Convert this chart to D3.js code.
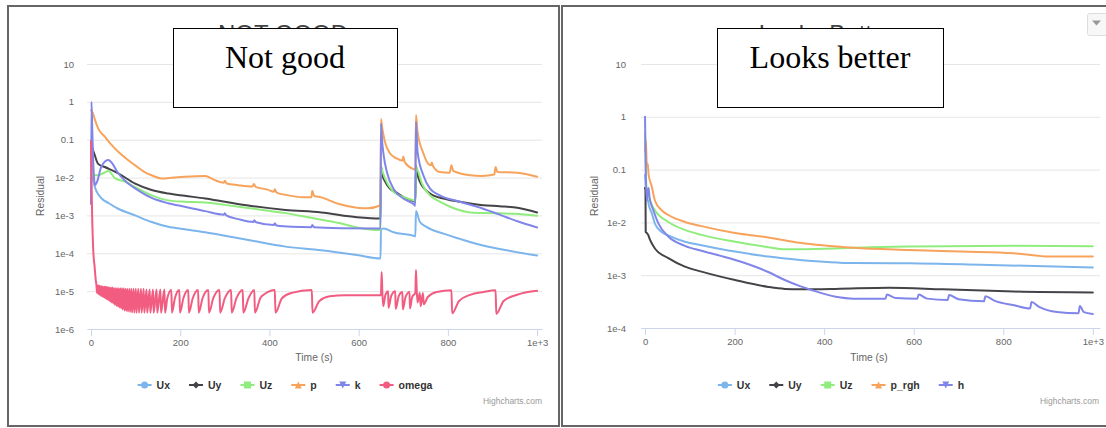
<!DOCTYPE html>
<html>
<head>
<meta charset="utf-8">
<script src="https://cdn.jsdelivr.net/npm/d3@7"></script>
<style>
  body { margin: 0; background: #fff; }
  text { font-family: "Liberation Sans", Arial, sans-serif; }
</style>
</head>
<body>
<script>
// ---- data (time in s, residual) ----

var xTickValues = [0, 200, 400, 600, 800, 1000];
var xTickLabels = ["0", "200", "400", "600", "800", "1e+3"];

var yTickValuesLeft = [1e-6, 1e-5, 1e-4, 1e-3, 1e-2, 0.1, 1, 10];
var yTickLabelsLeft = ["1e-6", "1e-5", "1e-4", "1e-3", "1e-2", "0.1", "1", "10"];
var yTickValuesRight = [1e-4, 1e-3, 1e-2, 0.1, 1, 10];
var yTickLabelsRight = ["1e-4", "1e-3", "1e-2", "0.1", "1", "10"];

var namesLeft = ["Ux", "Uy", "Uz", "p", "k", "omega"];
var namesRight = ["Ux", "Uy", "Uz", "p_rgh", "h"];

// left chart ("Not good")
var uxLeft = [[0, 0.05], [3, 0.012], [8, 6e-3], [13, 4.2e-3], [24, 2.8e-3], [40, 2.1e-3], [61, 1.5e-3],
  [99, 1e-3], [136, 6.7e-4], [173, 5e-4], [210, 4.3e-4], [256, 3.6e-4], [300, 2.9e-4], [356, 2.2e-4],
  [436, 1.5e-4], [516, 1.2e-4], [596, 9e-5], [649, 7.3e-5], [650, 4.2e-4], [656, 4.5e-4], [678, 3.6e-4],
  [723, 2.9e-4], [727, 2.8e-4], [728.5, 1.3e-3], [737, 6.8e-4], [752, 5e-4], [790, 3.3e-4], [827, 2.4e-4],
  [879, 1.6e-4], [940, 1.15e-4], [1000, 8.7e-5]];

var uyLeft = [[0, 0.09], [3, 0.06], [7, 0.044], [16, 0.023], [31, 0.019], [61, 0.013], [99, 6.9e-3],
  [136, 4.7e-3], [173, 3.8e-3], [210, 3.3e-3], [256, 2.8e-3], [300, 2.3e-3], [356, 1.8e-3], [436, 1.4e-3],
  [516, 1.2e-3], [596, 9e-4], [649, 8.3e-4], [650, 0.02], [653, 0.012], [659, 8e-3], [670, 5.1e-3],
  [685, 4e-3], [700, 3.1e-3], [723, 2.4e-3], [727, 2.3e-3], [728.5, 0.02], [732, 0.012], [737, 7.8e-3],
  [760, 3.8e-3], [790, 2.8e-3], [827, 2.3e-3], [879, 1.86e-3], [916, 1.75e-3], [956, 1.6e-3], [1000, 1.2e-3]];

var uzLeft = [[0, 0.02], [3, 0.0115], [16, 0.0115], [27, 0.013], [39, 0.015], [54, 9.5e-3], [76, 7.8e-3],
  [99, 5.6e-3], [136, 3.4e-3], [173, 2.5e-3], [210, 2.3e-3], [256, 2.2e-3], [300, 1.9e-3], [356, 1.55e-3],
  [436, 1.15e-3], [496, 8.5e-4], [556, 6.3e-4], [596, 4.8e-4], [649, 4.1e-4], [650, 0.019], [654, 0.014],
  [659, 9.5e-3], [678, 4.2e-3], [700, 3.1e-3], [723, 2.5e-3], [727, 2.4e-3], [728.5, 0.019], [732, 0.016],
  [742, 6.9e-3], [760, 3.4e-3], [782, 2.3e-3], [805, 1.7e-3], [827, 1.37e-3], [850, 1.2e-3], [900, 1.15e-3],
  [950, 1.1e-3], [1000, 9.8e-4]];

var pLeft = [[0, 0.6], [4, 0.5], [9, 0.33], [16, 0.2], [31, 0.12], [45, 0.075], [61, 0.048], [80, 0.031],
  [99, 0.021], [120, 0.014], [136, 0.0115], [158, 9.5e-3], [185, 0.01], [210, 0.0105], [256, 0.011],
  [276, 8.7e-3], [298, 7.3e-3], [300, 8.3e-3], [304, 7e-3], [330, 6.3e-3], [362, 5.8e-3], [365, 6.8e-3],
  [369, 5.7e-3], [396, 4.8e-3], [410, 4.2e-3], [412, 4.9e-3], [416, 4e-3], [436, 3.5e-3], [476, 3e-3],
  [494, 3e-3], [496, 4.5e-3], [500, 3.3e-3], [516, 3e-3], [556, 2e-3], [596, 1.6e-3], [620, 1.55e-3],
  [649, 1.86e-3], [650, 0.35], [653, 0.2], [659, 0.087], [670, 0.044], [685, 0.032], [698, 0.028],
  [700, 0.036], [703, 0.026], [723, 0.0166], [727, 0.016], [728.5, 0.45], [732, 0.16], [745, 0.044],
  [756, 0.023], [762, 0.021], [764, 0.025], [767, 0.02], [782, 0.014], [804, 0.0135], [808, 0.021],
  [812, 0.015], [850, 0.0115], [876, 0.011], [904, 0.012], [907, 0.019], [911, 0.014], [956, 0.0135],
  [1000, 0.0105]];

var kLeft = [[0, 2e-3], [1, 1.0], [3, 0.15], [5, 0.025], [9, 6.3e-3], [14, 8e-3], [22, 0.018], [32, 0.027],
  [39, 0.029], [46, 0.025], [61, 0.013], [80, 7.5e-3], [99, 5.2e-3], [136, 2.9e-3], [173, 2.1e-3],
  [210, 1.7e-3], [256, 1.3e-3], [298, 1.05e-3], [300, 1.15e-3], [303, 1e-3], [330, 8e-4], [364, 6.7e-4],
  [366, 7.5e-4], [370, 6.6e-4], [410, 5.6e-4], [412, 6.2e-4], [416, 5.4e-4], [450, 5e-4], [494, 4.9e-4],
  [496, 5.6e-4], [500, 4.9e-4], [560, 4.6e-4], [649, 4.5e-4], [650, 0.27], [653, 0.08], [656, 0.039],
  [664, 0.013], [678, 5.1e-3], [700, 2.8e-3], [723, 2e-3], [727, 1.8e-3], [728.5, 0.3], [732, 0.048],
  [745, 0.0115], [760, 5.1e-3], [782, 3.4e-3], [827, 2.3e-3], [879, 1.5e-3], [916, 1.05e-3], [956, 7e-4],
  [1000, 4.8e-4]];

var omegaLeft = [[0, 0.09], [2, 2e-3], [5, 1.2e-4], [8, 4.5e-5], [11, 1.8e-5],
  [12, 1.5e-5], [13.5, 9e-6], [15, 1.4e-5], [16.5, 8.5e-6], [18, 1.4e-5], [19.5, 8e-6], [21, 1.35e-5],
  [22.5, 7.5e-6], [24, 1.35e-5], [25.5, 7.2e-6], [27, 1.3e-5], [28.5, 7e-6], [30, 1.3e-5], [31.5, 6.5e-6],
  [33, 1.3e-5], [34.5, 6.2e-6], [36, 1.3e-5], [37.5, 6e-6], [39, 1.25e-5], [40.5, 5.6e-6], [42, 1.25e-5],
  [43.5, 5.3e-6], [45, 1.25e-5], [46.5, 5e-6], [48.5, 1.25e-5], [50, 4.7e-6], [52, 1.2e-5], [53.5, 4.4e-6],
  [55.5, 1.2e-5], [57, 4.1e-6], [59, 1.2e-5], [60.5, 3.9e-6], [62.5, 1.2e-5], [64, 3.7e-6], [66, 1.2e-5],
  [67.5, 3.5e-6], [69.5, 1.2e-5], [71, 3.3e-6], [73.5, 1.2e-5], [75, 3.1e-6], [77.5, 1.15e-5], [79, 3e-6],
  [81.5, 1.15e-5], [83, 2.9e-6], [86, 1.15e-5], [87.5, 2.8e-6], [90.5, 1.15e-5], [92, 2.75e-6],
  [95.5, 1.15e-5], [97, 2.7e-6], [100.5, 1.15e-5], [102, 2.7e-6], [106, 1.15e-5], [107.5, 2.7e-6],
  [112, 1.15e-5], [113.5, 2.7e-6], [118, 1.15e-5], [119.5, 2.7e-6], [124.5, 1.1e-5], [126, 2.7e-6],
  [131.5, 1.1e-5], [133, 2.7e-6], [139, 1.1e-5], [140.5, 2.7e-6], [147, 1.1e-5], [148.5, 2.7e-6],
  [155.5, 1.1e-5], [157, 2.7e-6], [164.5, 1.1e-5], [166, 2.7e-6], [171, 6.5e-6], [180, 1.08e-5],
  [181.5, 2.7e-6], [188, 6.5e-6], [198, 1.08e-5], [199.5, 2.7e-6], [207, 6.5e-6], [218, 1.08e-5],
  [219.5, 2.7e-6], [228, 6.5e-6], [240, 1.08e-5], [241.5, 2.7e-6], [250, 6.5e-6], [263, 1.08e-5],
  [264.5, 2.7e-6], [274, 6.5e-6], [288, 1.08e-5], [289.5, 2.7e-6], [300, 6.5e-6], [314, 1.08e-5],
  [315.5, 2.7e-6], [326, 6.5e-6], [340, 1.08e-5], [341.5, 2.7e-6], [353, 6.5e-6], [366, 1.08e-5],
  [367.5, 2.7e-6], [380, 6.7e-6], [390, 8.5e-6], [412, 1.08e-5], [413.5, 2.7e-6], [428, 6.5e-6],
  [450, 9e-6], [495, 1.08e-5], [496.5, 2.7e-6], [512, 5.5e-6], [535, 7.3e-6], [570, 7.8e-6], [649, 7.8e-6],
  [650, 7.8e-6], [651.5, 3.2e-5], [653, 1e-5], [655, 4e-6], [660, 8e-6], [666, 1e-5], [667, 3.6e-6],
  [673, 7.5e-6], [682, 1e-5], [683, 3.4e-6], [690, 7.5e-6], [698, 9.5e-6], [699, 3.3e-6], [705, 7e-6],
  [714, 9.5e-6], [715, 3.5e-6], [720, 7e-6], [727, 9e-6], [728.5, 3.6e-5], [730, 1.2e-5], [732, 5e-6],
  [737, 9e-6], [739, 4e-6], [744, 9e-6], [746, 4.5e-6], [755, 7e-6], [775, 9.5e-6], [808, 1.05e-5],
  [809.5, 2.6e-6], [825, 5.5e-6], [850, 8e-6], [880, 9.5e-6], [907, 1.05e-5], [908.5, 2.5e-6],
  [925, 5.5e-6], [955, 8e-6], [1000, 1.02e-5]];

// right chart ("Looks better")
var uxRight = [[0, 0.08], [2, 0.04], [4, 0.026], [6, 0.028], [8, 0.022], [15, 0.015], [22, 9.5e-3],
  [37, 6.6e-3], [52, 5.7e-3], [89, 4.3e-3], [126, 3.7e-3], [201, 2.8e-3], [275, 2.25e-3], [346, 1.95e-3],
  [466, 1.7e-3], [590, 1.68e-3], [749, 1.58e-3], [1000, 1.4e-3]];

var uyRight = [[0, 0.045], [1, 0.04], [1.5, 6.6e-3], [4, 6.3e-3], [7, 5.8e-3], [11, 4.7e-3], [22, 3.2e-3],
  [52, 2.1e-3], [89, 1.45e-3], [126, 1.17e-3], [201, 8.1e-4], [275, 6e-4], [312, 5.5e-4], [346, 5.4e-4],
  [426, 5.5e-4], [545, 5.8e-4], [665, 5.4e-4], [824, 4.9e-4], [1000, 4.7e-4]];

var uzRight = [[0, 0.5], [1.5, 0.12], [3, 0.048], [11, 0.026], [22, 0.017], [52, 0.0102], [89, 7.2e-3],
  [126, 5.8e-3], [201, 4.3e-3], [275, 3.4e-3], [312, 3.1e-3], [346, 3.1e-3], [466, 3.3e-3], [590, 3.5e-3],
  [824, 3.6e-3], [1000, 3.55e-3]];

var prghRight = [[0, 0.22], [2, 0.36], [4, 0.115], [6, 0.13], [8, 0.08], [15, 0.048], [22, 0.026],
  [37, 0.017], [52, 0.0138], [89, 0.0102], [126, 8.5e-3], [201, 6.3e-3], [275, 5.2e-3], [346, 4.1e-3],
  [466, 3.3e-3], [590, 3e-3], [705, 2.8e-3], [824, 2.6e-3], [904, 2.25e-3], [1000, 2.25e-3]];

var hRight = [[0, 1.0], [1.5, 0.11], [4, 0.026], [6, 0.04], [8, 0.045], [10, 0.03], [18.5, 0.017],
  [30, 9.5e-3], [52, 5.4e-3], [89, 3.6e-3], [126, 2.9e-3], [171, 2.3e-3], [223, 1.7e-3], [275, 1.15e-3],
  [312, 8.1e-4], [346, 6.2e-4], [370, 5.3e-4], [426, 3.9e-4], [466, 3.6e-4], [537, 3.6e-4], [540, 4.3e-4],
  [560, 3.7e-4], [608, 3.6e-4], [611, 4.3e-4], [630, 3.6e-4], [676, 3.4e-4], [679, 4.2e-4], [700, 3.5e-4],
  [757, 3.2e-4], [760, 4e-4], [780, 3.3e-4], [824, 2.7e-4], [860, 2.35e-4], [863, 3.1e-4], [880, 2.5e-4],
  [920, 2e-4], [968, 1.9e-4], [971, 2.6e-4], [980, 2e-4], [1000, 1.85e-4]];

// ---- styles ----
var colors = ["#7cb5ec", "#434348", "#90ed7d", "#f7a35c", "#8085e9", "#f15c80"];
var markerShapes = ["circle", "diamond", "square", "triangle", "triangle-down", "circle"];

var svg = d3.select("body").append("svg")
  .attr("width", 1106)
  .attr("height", 428);

// the two framed screenshots
svg.append("rect").attr("x", 8).attr("y", 6).attr("width", 551).attr("height", 420)
  .attr("fill", "#fff").attr("stroke", "#666").attr("stroke-width", 2);
svg.append("rect").attr("x", 562).attr("y", 6).attr("width", 560).attr("height", 420)
  .attr("fill", "#fff").attr("stroke", "#666").attr("stroke-width", 2);

drawPanel({
  id: "left",
  names: namesLeft,
  series: [uxLeft, uyLeft, uzLeft, pLeft, kLeft, omegaLeft],
  yTicks: yTickValuesLeft, yLabels: yTickLabelsLeft,
  xDomain: [-9, 1011], left: 87, right: 542,
  yDomain: [1e-6, 10], top: 64, bottom: 329,
  labelPad: 13, axisTitleX: 40,
  title: "NOT GOOD", titleX: 283,
  box: {x: 173, y: 28, w: 224, h: 79, text: "Not good"},
  legendCenter: 285, creditsX: 542
});

drawPanel({
  id: "right",
  names: namesRight,
  series: [uxRight, uyRight, uzRight, prghRight, hRight],
  yTicks: yTickValuesRight, yLabels: yTickLabelsRight,
  xDomain: [-9, 1016], left: 641, right: 1100,
  yDomain: [1e-4, 10], top: 64, bottom: 328,
  labelPad: 15, axisTitleX: 594,
  title: "Looks Better", titleX: 826,
  box: {x: 717, y: 28, w: 226, h: 79, text: "Looks better"},
  legendCenter: 841, creditsX: 1099
});

// export menu button (top right)
svg.append("rect").attr("x", 1087.5).attr("y", 13.5).attr("width", 24).attr("height", 22).attr("rx", 2)
  .attr("fill", "#f7f7f7").attr("stroke", "#ddd");
svg.append("path").attr("d", "M1092,20.5 L1101,20.5 L1096.5,25.5 Z").attr("fill", "#999");

function drawPanel(c) {
  var x = d3.scaleLinear().domain(c.xDomain).range([c.left, c.right]);
  var y = d3.scaleLog().domain(c.yDomain).range([c.bottom, c.top]);
  var g = svg.append("g");

  // title (mostly hidden behind the annotation box)
  g.append("text")
    .attr("x", c.titleX).attr("y", 42)
    .attr("text-anchor", "middle")
    .style("font-size", "24px").style("fill", "#444")
    .text(c.title);

  // y axis: grid lines + labels
  var yAxis = d3.axisLeft(y)
    .tickValues(c.yTicks)
    .tickFormat(function(d, i) { return c.yLabels[i]; })
    .tickSize(-(c.right - c.left))
    .tickPadding(c.labelPad);
  var ya = g.append("g").attr("transform", "translate(" + c.left + ",0)").call(yAxis);
  ya.select(".domain").remove();
  ya.selectAll(".tick line").attr("stroke", "#e6e6e6");
  ya.selectAll(".tick text")
    .attr("fill", "#666")
    .style("font-size", "9.5px")
    .style("font-family", "'Liberation Sans', Arial, sans-serif");

  // x axis
  var xAxis = d3.axisBottom(x)
    .tickValues(xTickValues)
    .tickFormat(function(d, i) { return xTickLabels[i]; })
    .tickSizeInner(7).tickSizeOuter(0)
    .tickPadding(3);
  var xa = g.append("g").attr("transform", "translate(0," + c.bottom + ")").call(xAxis);
  xa.select(".domain").attr("stroke", "#ccd6eb");
  xa.selectAll(".tick line").attr("stroke", "#ccd6eb");
  xa.selectAll(".tick text")
    .attr("fill", "#666")
    .style("font-size", "9.5px")
    .style("font-family", "'Liberation Sans', Arial, sans-serif");

  // axis titles
  g.append("text")
    .attr("x", (x(0) + x(1000)) / 2).attr("y", 361)
    .attr("text-anchor", "middle")
    .style("font-size", "10.3px").style("fill", "#666")
    .text("Time (s)");
  g.append("text")
    .attr("transform", "translate(" + c.axisTitleX + ",196) rotate(-90)")
    .attr("text-anchor", "middle").attr("dy", "0.35em")
    .style("font-size", "10.3px").style("fill", "#666")
    .text("Residual");

  // clip to plot area
  svg.append("clipPath").attr("id", "clip-" + c.id)
    .append("rect")
    .attr("x", c.left).attr("y", c.top - 2)
    .attr("width", c.right - c.left).attr("height", c.bottom - c.top + 4);

  var line = d3.line()
    .x(function(d) { return x(d[0]); })
    .y(function(d) { return y(d[1]); })
    .curve(d3.curveMonotoneX);

  g.append("g").attr("clip-path", "url(#clip-" + c.id + ")")
    .selectAll("path")
    .data(c.series)
    .enter()
    .append("path")
    .attr("d", line)
    .attr("fill", "none")
    .attr("stroke", function(d, i) { return colors[i]; })
    .attr("stroke-width", 2)
    .attr("stroke-linejoin", "round")
    .attr("stroke-linecap", "round");

  // legend
  var legend = g.append("g");
  var cursor = 0;
  c.names.forEach(function(name, i) {
    var item = legend.append("g").attr("transform", "translate(" + cursor + ",0)");
    item.append("line")
      .attr("x1", 0).attr("x2", 14).attr("y1", 0).attr("y2", 0)
      .attr("stroke", colors[i]).attr("stroke-width", 2);
    item.append("path")
      .attr("d", markerPath(markerShapes[i]))
      .attr("transform", "translate(7,0)")
      .attr("fill", colors[i]);
    var t = item.append("text")
      .attr("x", 19).attr("y", 3.8)
      .style("font-size", "10.5px").style("font-weight", "bold").style("fill", "#333")
      .text(name);
    cursor += 19 + t.node().getComputedTextLength() + 19;
  });
  var total = cursor - 19;
  legend.attr("transform", "translate(" + (c.legendCenter - total / 2) + ",385)");

  // credits
  g.append("text")
    .attr("x", c.creditsX).attr("y", 404)
    .attr("text-anchor", "end")
    .style("font-size", "8.5px").style("fill", "#999")
    .text("Highcharts.com");

  // annotation box on top
  g.append("rect")
    .attr("x", c.box.x + 0.5).attr("y", c.box.y + 0.5)
    .attr("width", c.box.w).attr("height", c.box.h)
    .attr("fill", "#fff").attr("stroke", "#000").attr("stroke-width", 1);
  g.append("text")
    .attr("x", c.box.x + c.box.w / 2).attr("y", 68)
    .attr("text-anchor", "middle")
    .style("font-family", "'Liberation Serif', 'Times New Roman', serif")
    .style("font-size", "32px").style("fill", "#000")
    .text(c.box.text);
}

function markerPath(shape) {
  var r = 3.5;
  if (shape === "circle") return d3.symbol().type(d3.symbolCircle).size(Math.PI * r * r)();
  if (shape === "diamond") return "M0," + (-r) + "L" + r + ",0L0," + r + "L" + (-r) + ",0Z";
  if (shape === "square") return "M" + (-r) + "," + (-r) + "h" + 2 * r + "v" + 2 * r + "h" + (-2 * r) + "Z";
  if (shape === "triangle") return "M0," + (-r) + "L" + r + "," + r + "L" + (-r) + "," + r + "Z";
  return "M" + (-r) + "," + (-r) + "L" + r + "," + (-r) + "L0," + r + "Z";
}
</script>
</body>
</html>
